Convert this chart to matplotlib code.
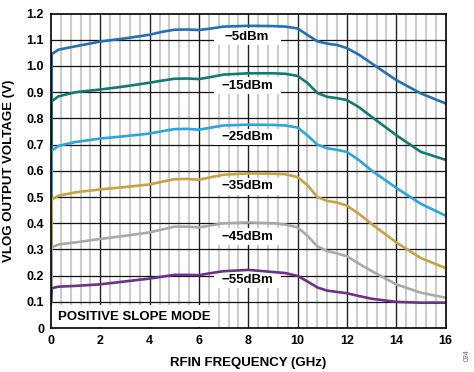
import matplotlib.pyplot as plt
from matplotlib.patches import Rectangle

plt.rcParams['font.family'] = ['Liberation Sans', 'DejaVu Sans']
plt.rcParams['font.weight'] = 'bold'

### frequency points (GHz) shared by every curve
freq = [0.0, 0.03, 0.3, 1, 2, 3, 4, 4.5, 5, 5.5, 6, 6.5, 7, 8, 9, 9.5, 10,
        10.4, 10.8, 11.2, 11.6, 12, 12.5, 13, 14, 15, 16]

### output voltage (V) for each input power
v_m5 = [0.10, 1.045, 1.062, 1.075, 1.093, 1.105, 1.119, 1.130, 1.138, 1.139, 1.137, 1.143, 1.150, 1.153,
        1.152, 1.150, 1.143, 1.118, 1.094, 1.085, 1.080, 1.068, 1.042, 1.010, 0.946, 0.895, 0.857]
v_m15 = [0.10, 0.865, 0.884, 0.900, 0.910, 0.922, 0.936, 0.944, 0.951, 0.952, 0.950, 0.958, 0.967, 0.972,
         0.972, 0.970, 0.962, 0.935, 0.897, 0.882, 0.877, 0.870, 0.842, 0.806, 0.736, 0.672, 0.642]
v_m25 = [0.10, 0.677, 0.695, 0.710, 0.723, 0.732, 0.742, 0.751, 0.759, 0.760, 0.757, 0.765, 0.773, 0.776,
         0.775, 0.773, 0.765, 0.735, 0.700, 0.686, 0.680, 0.672, 0.640, 0.601, 0.535, 0.474, 0.429]
v_m35 = [0.09, 0.490, 0.505, 0.518, 0.529, 0.538, 0.548, 0.558, 0.568, 0.569, 0.566, 0.576, 0.585, 0.590,
         0.589, 0.587, 0.576, 0.545, 0.500, 0.485, 0.479, 0.467, 0.435, 0.397, 0.327, 0.267, 0.229]
v_m45 = [0.10, 0.308, 0.319, 0.327, 0.340, 0.352, 0.365, 0.376, 0.387, 0.387, 0.384, 0.392, 0.400, 0.403,
         0.400, 0.395, 0.384, 0.352, 0.312, 0.294, 0.285, 0.274, 0.245, 0.218, 0.167, 0.135, 0.116]
v_m55 = [0.10, 0.152, 0.158, 0.161, 0.167, 0.178, 0.189, 0.196, 0.203, 0.203, 0.202, 0.210, 0.217, 0.222,
         0.214, 0.210, 0.199, 0.178, 0.155, 0.143, 0.138, 0.133, 0.122, 0.112, 0.100, 0.097, 0.097]

series = [v_m5, v_m15, v_m25, v_m35, v_m45, v_m55]
labels = ['\u22125dBm', '\u221215dBm', '\u221225dBm', '\u221235dBm', '\u221245dBm', '\u221255dBm']
label_y = [1.112, 0.924, 0.729, 0.541, 0.349, 0.184]
colors = ['#2271b8', '#127b70', '#27a7de', '#c9a23e', '#a9a9a9', '#6c3189']

fig = plt.figure(figsize=(4.74, 3.72), dpi=100)
ax = fig.add_axes([0.1076, 0.118, 0.8324, 0.8457])

ax.set_xlim(0, 16)
ax.set_ylim(0, 1.2)

### grid: light minor verticals, dark majors
for xm in [i * 0.4 for i in range(1, 40)]:
    if abs(xm / 2 - round(xm / 2)) > 1e-6:
        ax.axvline(xm, color='#cccccc', linewidth=1.5, zorder=1)
for xg in range(2, 16, 2):
    ax.axvline(xg, color='#222222', linewidth=1.0, zorder=2)
for i in range(1, 12):
    ax.axhline(i * 0.1, color='#111111', linewidth=0.9, zorder=2)

### white boxes behind the labels
for lab, ly in zip(labels, label_y):
    ax.add_patch(Rectangle((6.62, ly - 0.032), 2.72, 0.064, facecolor='white',
                           edgecolor='none', zorder=3))
    ax.text(7.95, ly, lab, ha='center', va='center', fontsize=9.5,
            fontweight='bold', zorder=6)

ax.add_patch(Rectangle((0.02, 0.003), 6.55, 0.085, facecolor='white',
                       edgecolor='none', zorder=3))
ax.text(0.3, 0.042, 'POSITIVE SLOPE MODE', ha='left', va='center',
        fontsize=9.5, fontweight='bold', zorder=6)

for vals, col in zip(series, colors):
    ax.plot(freq, vals, color=col, linewidth=1.9, zorder=5,
            solid_joinstyle='round', solid_capstyle='round')

ax.set_xticks(range(0, 17, 2))
ax.set_yticks([i * 0.1 for i in range(13)])
ax.set_yticklabels(['0'] + ['%.1f' % (i * 0.1) for i in range(1, 13)])
ax.tick_params(axis='both', which='both', length=0, labelsize=9, pad=5)
for lab in ax.get_xticklabels() + ax.get_yticklabels():
    lab.set_fontweight('bold')

ax.set_xlabel('RFIN FREQUENCY (GHz)', fontsize=9.5, fontweight='bold', labelpad=7)
ax.set_ylabel('VLOG OUTPUT VOLTAGE (V)', fontsize=9.5, fontweight='bold', labelpad=8)

for sp in ax.spines.values():
    sp.set_linewidth(1.2)
    sp.set_zorder(7)

fig.text(0.985, 0.03, '034', rotation=90, fontsize=5, color='#666666',
         ha='center', va='bottom', fontweight='normal')

plt.savefig('out.png', dpi=100)
